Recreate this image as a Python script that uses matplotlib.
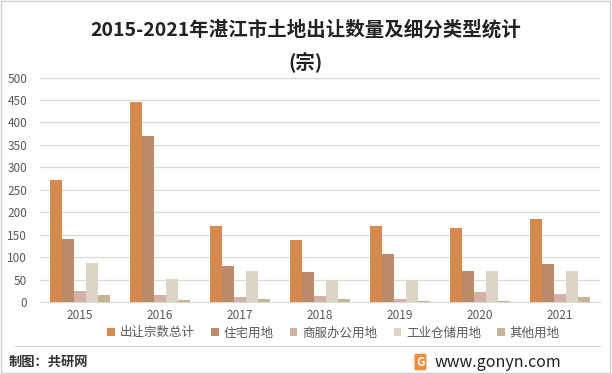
import matplotlib
matplotlib.use("Agg")
import matplotlib.pyplot as plt
import numpy as np
from matplotlib.patches import Rectangle

plt.rcParams["font.family"] = ["Noto Sans CJK SC", "DejaVu Sans"]

years = ["2015", "2016", "2017", "2018", "2019", "2020", "2021"]
series = ["出让宗数总计", "住宅用地", "商服办公用地", "工业仓储用地", "其他用地"]
total = [272, 446, 169, 138, 169, 165, 185]
residential = [140, 370, 80, 67, 107, 69, 85]
commercial = [24, 16, 11, 13, 7, 22, 18]
industrial = [87, 51, 69, 50, 50, 69, 69]
other = [16, 5, 7, 7, 2, 2, 11]
colors = ["#D38A4C", "#BC8B69", "#D4B1A6", "#DDD5C4", "#C8B395"]

fig = plt.figure(figsize=(6.12, 3.74), dpi=100)
ax = fig.add_axes([0.065, 0.1925, 0.915, 0.6])

x = np.arange(len(years))
w = 0.15
for i, (vals, c) in enumerate(zip([total, residential, commercial, industrial, other], colors)):
    ax.bar(x + (i - 2) * w, vals, w, color=c, label=series[i], zorder=3)

ax.set_xlim(-0.5, len(years) - 0.5)
ax.set_ylim(0, 500)
ax.set_yticks(np.arange(0, 501, 50))
ax.set_xticks(x)
ax.set_xticklabels(years)
ax.grid(axis="y", color="#D9D9D9", lw=0.9, zorder=0)
for s in ["left", "right", "top"]:
    ax.spines[s].set_visible(False)
ax.spines["bottom"].set_color("#D9D9D9")
ax.tick_params(length=0, labelsize=8.5, colors="#595959", pad=5)
ax.tick_params(axis="y", pad=9)

fig.text(0.5, 0.92, "2015-2021年湛江市土地出让数量及细分类型统计", ha="center", va="center",
         fontsize=14, fontweight="bold", color="#222222")
fig.text(0.5, 0.835, "(宗)", ha="center", va="center", fontsize=14, fontweight="bold", color="#222222")

fig.legend(loc="center", bbox_to_anchor=(0.545, 0.11), ncol=5, frameon=False, fontsize=9,
           handlelength=0.6, handleheight=0.6, handletextpad=0.4, columnspacing=1.3,
           labelcolor="#595959")

fig.add_artist(plt.Line2D([0.025, 0.98], [0.075, 0.075], color="#D9D9D9", lw=0.8))
fig.text(0.015, 0.032, "制图：共研网", ha="left", va="center", fontsize=9.5, fontweight="bold", color="#333333")
fig.text(0.71, 0.032, "www.gonyn.com", ha="left", va="center", fontsize=11.5, color="#222222")
fig.text(0.687, 0.032, "G", ha="center", va="center", fontsize=8.5, fontweight="bold", color="white",
         bbox=dict(boxstyle="round,pad=0.15", fc="#F08A3C", ec="none"))

fig.add_artist(Rectangle((0.002, 0.003), 0.995, 0.994, transform=fig.transFigure,
                         fill=False, ec="#D0D0D0", lw=1))

fig.savefig("out.png", dpi=100)
